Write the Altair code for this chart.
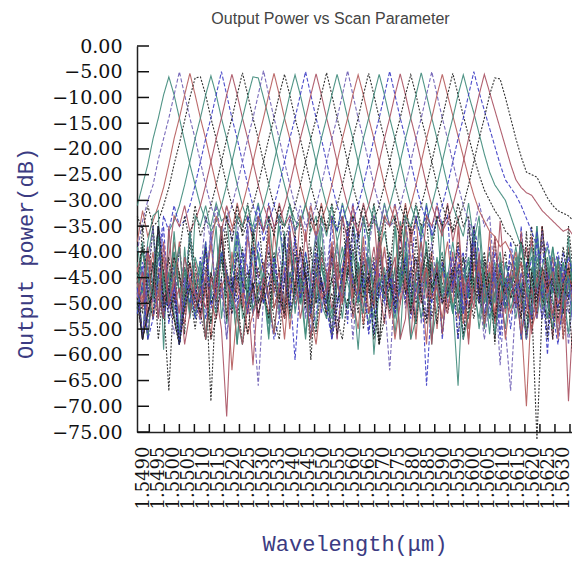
import altair as alt
import pandas as pd

# wavelength grid of the simulation (um)
WL_START = 1.5486
WL_STEP = 0.000175

CH01 = [-31,-27,-23,-18,-14,-9.5,-6,-9.5,-14,-18.5,-23,-27,
        -31,-34,-35,-30.5,-34,-33,-44,-36,-41,-50,-45,-40,
        -46,-56,-43,-35,-44,-49,-41,-47,-57,-45,-36,-43,
        -48,-56,-46,-41,-37,-44,-50,-42,-47,-53,-40,-36,
        -42,-48,-34,-39,-51,-44,-38,-46,-58,-43,-40,-47,
        -52,-45,-41,-49,-38,-44,-50,-46,-42,-48,-55,-44,
        -39,-46,-56,-43,-48,-35,-45,-53,-47,-42,-49,-44]
CH02 = [-40,-34,-30,-27,-22,-18,-14,-9.5,-5,-9.5,-14,-18,
        -22.5,-27,-31,-34,-36,-31,-38,-33,-48,-43,-52,-66,
        -49,-42,-46,-39,-51,-44,-47,-40,-53,-45,-41,-48,
        -44,-34,-50,-46,-42,-57,-45,-39,-47,-56,-43,-40,
        -46,-51,-37,-44,-49,-41,-54,-45,-38,-47,-43,-50,
        -41,-48,-57,-44,-35,-46,-42,-51,-45,-62,-47,-40,
        -45,-52,-43,-38,-48,-44,-56,-41,-47,-50,-39,-46]
CH03 = [-38,-32,-37,-34,-31,-27.5,-23,-18,-14,-9.5,-5.3,-9.5,
        -14,-18,-22.5,-27,-31,-34,-36,-30.5,-35,-33,-38,-45,
        -42,-49,-36,-44,-53,-41,-47,-39,-45,-50,-43,-48,
        -52,-40,-46,-43,-38,-49,-55,-44,-41,-47,-36,-45,
        -50,-43,-35,-48,-45,-57,-42,-46,-40,-55,-44,-38,
        -47,-42,-54,-45,-39,-49,-43,-46,-52,-41,-48,-44,
        -40,-51,-45,-37,-47,-43,-50,-55,-42,-46,-39,-48]
CH04 = [-33,-36,-31,-35,-34,-31,-27.5,-23,-19,-14.5,-10,-6.2,
        -6,-9.5,-14,-18,-22.5,-27,-31,-34,-36,-30.5,-38,-33,
        -44,-37,-48,-43,-53,-45,-40,-49,-42,-61,-46,-39,
        -45,-56,-42,-47,-34,-44,-52,-41,-48,-43,-58,-46,
        -40,-47,-44,-50,-37,-45,-49,-42,-53,-46,-41,-48,
        -43,-57,-46,-35,-45,-50,-42,-47,-54,-44,-40,-49,
        -45,-41,-53,-47,-43,-38,-50,-46,-42,-57,-48,-44]
CH05 = [-42,-48,-38,-33,-32,-59,-36,-34,-31,-27,-22.5,-18,
        -14,-9.5,-5.8,-9.5,-14,-18,-22.5,-27,-31,-34,-35,-30.5,
        -36,-33,-44,-52,-38,-46,-43,-50,-40,-47,-55,-42,
        -48,-39,-45,-53,-43,-47,-59,-44,-41,-49,-37,-46,
        -51,-43,-57,-40,-46,-54,-35,-39,-47,-44,-56,-45,
        -38,-46,-52,-43,-48,-41,-45,-56,-44,-40,-49,-47,
        -42,-50,-45,-39,-53,-46,-41,-48,-44,-51,-43,-47]
CH06 = [-50,-44,-39,-47,-42,-33,-36,-31,-35,-34,-31,-27,
        -22.5,-18,-14,-9.5,-5,-9.5,-14,-18,-22.5,-27,-31,-34,
        -36,-30.5,-35,-33,-43,-47,-61,-46,-40,-49,-44,-52,
        -45,-40,-57,-43,-54,-35,-39,-47,-42,-56,-44,-48,
        -41,-49,-45,-38,-47,-53,-43,-46,-50,-42,-57,-45,
        -48,-43,-40,-51,-46,-44,-49,-39,-47,-53,-42,-46,
        -51,-35,-47,-41,-49,-45,-60,-43,-48,-40,-46,-56]
CH07 = [-44,-39,-49,-42,-46,-53,-41,-33,-35,-31,-36,-34,
        -31,-27,-22.5,-18,-14,-9.5,-5.5,-9.5,-14,-18,-22.5,-27,
        -31,-34,-36,-30.5,-35,-33,-38,-47,-44,-52,-41,-48,
        -45,-42,-57,-46,-40,-48,-43,-51,-45,-39,-47,-54,
        -43,-48,-35,-46,-57,-44,-38,-49,-45,-42,-56,-47,
        -40,-53,-45,-58,-42,-46,-55,-43,-49,-34,-47,-44,
        -50,-45,-39,-48,-52,-43,-46,-41,-54,-47,-44,-49]
CH08 = [-46,-52,-41,-48,-44,-50,-67,-47,-40,-33,-38,-31,
        -37,-34,-31,-27,-22.5,-18,-14,-9.5,-5.2,-9.5,-14,-18,
        -22.5,-27,-31,-34,-35,-30.5,-36,-33,-47,-53,-44,-40,
        -48,-57,-51,-45,-35,-47,-42,-55,-46,-41,-58,-44,
        -52,-46,-40,-48,-43,-50,-45,-39,-47,-54,-42,-48,
        -44,-49,-41,-47,-53,-45,-40,-48,-43,-51,-46,-42,
        -47,-53,-44,-35,-49,-45,-57,-43,-48,-39,-46,-50]
CH09 = [-39,-45,-50,-42,-47,-53,-44,-40,-48,-43,-51,-33,
        -35,-31,-36,-34,-31,-27,-22.5,-18,-14,-9.8,-6,-6.2,
        -10,-14,-18.5,-23,-27,-31,-34,-35,-30.5,-36,-33,-43,
        -47,-52,-44,-39,-46,-50,-42,-48,-54,-45,-40,-47,
        -43,-56,-46,-35,-52,-44,-48,-38,-57,-51,-43,-47,
        -50,-66,-45,-42,-48,-53,-44,-40,-47,-43,-49,-46,
        -41,-48,-57,-45,-35,-50,-46,-39,-47,-52,-44,-55]
CH10 = [-48,-43,-54,-46,-41,-49,-44,-52,-39,-47,-42,-50,
        -45,-33,-38,-31,-37,-34,-31,-27,-22.5,-18,-14,-9.5,
        -4.8,-9.5,-14,-18,-22.5,-27,-31,-34,-36,-30.5,-38,-33,
        -44,-57,-39,-46,-53,-35,-47,-41,-56,-45,-38,-49,
        -63,-46,-42,-51,-44,-48,-40,-53,-46,-43,-49,-45,
        -41,-47,-52,-34,-39,-48,-57,-50,-43,-56,-46,-42,
        -49,-44,-47,-53,-40,-46,-51,-43,-48,-45,-58,-47]
CH11 = [-43,-49,-46,-40,-53,-44,-48,-38,-45,-51,-42,-47,
        -52,-44,-39,-33,-36,-31,-35,-34,-31,-27,-22.5,-18,
        -14,-9.5,-5.3,-9.5,-14,-18,-22.5,-27,-31,-34,-37,-30.5,
        -36,-33,-43,-47,-40,-49,-44,-54,-46,-42,-48,-39,
        -47,-57,-50,-35,-41,-53,-46,-58,-42,-47,-44,-51,
        -45,-40,-48,-55,-43,-46,-50,-42,-47,-44,-52,-46,
        -43,-49,-56,-51,-47,-35,-48,-53,-44,-57,-42,-50]
CH12 = [-51,-35,-48,-42,-57,-47,-41,-50,-44,-56,-36,-43,
        -49,-45,-69,-48,-42,-33,-38,-31,-37,-34,-31,-27,
        -22.5,-18,-14,-9.5,-5.5,-9.5,-14,-18,-22.5,-27,-31,-34,
        -35,-30.5,-36,-33,-45,-39,-48,-44,-52,-46,-41,-49,
        -44,-51,-47,-42,-48,-54,-45,-40,-49,-43,-46,-52,
        -47,-43,-57,-45,-35,-48,-53,-44,-58,-42,-51,-47,
        -44,-48,-42,-55,-46,-49,-43,-47,-51,-45,-40,-48]
CH13 = [-44,-57,-41,-35,-53,-45,-49,-42,-56,-39,-52,-48,
        -43,-47,-54,-46,-40,-49,-44,-33,-35,-31,-36,-34,
        -31,-27,-22.5,-18,-14,-9.5,-5.6,-9.5,-14,-18,-22.5,-27,
        -31,-34,-36,-30.5,-35,-33,-44,-48,-41,-60,-47,-43,
        -51,-35,-48,-40,-57,-53,-43,-47,-42,-50,-34,-49,
        -44,-52,-46,-41,-48,-43,-55,-47,-45,-50,-42,-47,
        -53,-46,-57,-49,-45,-36,-44,-48,-41,-47,-56,-45]
CH14 = [-47,-42,-57,-45,-35,-40,-54,-46,-58,-50,-44,-49,
        -41,-53,-46,-43,-49,-45,-52,-44,-47,-33,-37,-31,
        -38,-34,-31,-27,-22.5,-18,-14,-9.5,-5,-9.5,-14,-18,
        -22.5,-27,-31,-34,-37,-30.5,-38,-33,-46,-42,-49,-45,
        -43,-50,-46,-41,-53,-47,-44,-66,-49,-45,-42,-48,
        -46,-57,-43,-48,-35,-40,-52,-47,-44,-57,-46,-55,
        -45,-48,-42,-50,-46,-53,-44,-47,-51,-43,-49,-46]
CH15 = [-49,-44,-52,-47,-43,-50,-45,-41,-48,-54,-46,-42,
        -47,-51,-44,-48,-55,-72,-49,-43,-46,-52,-45,-33,
        -36,-31,-35,-34,-31,-27,-22.5,-18,-14,-9.5,-5.4,-9.5,
        -14,-18,-22.5,-27,-31,-34,-36,-30.5,-35,-33,-46,-49,
        -45,-41,-57,-53,-35,-47,-50,-43,-58,-42,-49,-52,
        -44,-48,-45,-51,-47,-42,-49,-46,-53,-44,-48,-45,
        -50,-36,-47,-56,-45,-49,-44,-57,-41,-54,-46,-47]
CH16 = [-45,-57,-47,-35,-49,-53,-46,-44,-58,-43,-48,-55,
        -47,-43,-50,-46,-41,-48,-52,-45,-49,-44,-47,-53,
        -46,-33,-37,-31,-38,-34,-31,-27,-22.5,-18,-14,-9.5,
        -5.2,-9.5,-14,-18,-22.5,-27,-31,-34,-37,-30.5,-38,-33,
        -46,-52,-43,-48,-45,-41,-49,-54,-47,-44,-50,-46,
        -43,-49,-56,-52,-35,-48,-41,-47,-57,-45,-50,-48,
        -46,-42,-51,-47,-44,-49,-53,-45,-48,-50,-43,-47]
CH17 = [-52,-46,-43,-49,-45,-51,-47,-40,-48,-44,-53,-46,
        -42,-57,-45,-35,-53,-44,-47,-58,-43,-49,-36,-41,
        -48,-54,-45,-33,-35,-31,-36,-34,-31,-27,-22.5,-18,
        -14,-9.5,-5.5,-9.5,-14,-18,-22.5,-27,-31,-34,-36,-30.5,
        -35,-33,-47,-43,-50,-46,-53,-44,-48,-41,-49,-45,
        -52,-46,-43,-49,-45,-55,-47,-44,-50,-42,-48,-46,
        -44,-57,-47,-53,-35,-48,-42,-49,-56,-51,-44,-47]
CH18 = [-46,-57,-44,-35,-53,-45,-49,-56,-51,-47,-36,-48,
        -54,-46,-36,-49,-45,-57,-47,-41,-50,-35,-48,-53,
        -45,-49,-43,-51,-46,-33,-36,-31,-35,-34,-31,-27,
        -22.5,-18,-14,-9.5,-4.8,-9.5,-14,-18,-22.5,-27,-31,-34,
        -35,-30.5,-36,-33,-44,-49,-46,-53,-43,-47,-50,-45,
        -48,-43,-51,-46,-49,-44,-52,-47,-45,-50,-55,-67,
        -49,-44,-51,-47,-45,-53,-48,-43,-50,-46,-52,-47]
CH19 = [-48,-57,-50,-46,-35,-44,-49,-53,-58,-47,-51,-44,
        -50,-47,-38,-49,-46,-53,-40,-48,-51,-37,-43,-50,
        -47,-52,-45,-49,-43,-55,-46,-33,-38,-31,-37,-34,
        -31,-27,-22.5,-18,-14,-9.5,-5.6,-9.5,-14,-18,-22.5,-27,
        -31,-34,-37,-30.5,-38,-33,-46,-43,-49,-47,-53,-45,
        -50,-35,-48,-57,-46,-43,-49,-36,-54,-45,-57,-48,
        -46,-53,-70,-49,-45,-51,-47,-44,-50,-48,-43,-52]
CH20 = [-44,-57,-52,-46,-35,-50,-47,-53,-58,-48,-42,-51,
        -46,-40,-54,-45,-38,-43,-51,-47,-39,-50,-46,-52,
        -48,-44,-51,-47,-53,-45,-49,-43,-50,-33,-35,-31,
        -36,-34,-31,-27,-22.5,-18,-14,-9.5,-5.3,-9.5,-14,-18,
        -22.5,-27,-31,-34,-36,-30.5,-35,-33,-47,-44,-50,-48,
        -45,-38,-47,-53,-40,-49,-44,-50,-37,-52,-45,-49,
        -47,-53,-36,-50,-76.5,-51,-46,-57,-44,-52,-35,-45]
CH21 = [-50,-38,-48,-53,-40,-44,-51,-36,-49,-43,-52,-41,
        -45,-57,-47,-44,-35,-54,-46,-58,-43,-48,-52,-46,
        -49,-53,-45,-48,-51,-44,-47,-50,-46,-52,-43,-33,
        -37,-31,-38,-34,-31,-27,-22.5,-18,-14,-9.5,-5.5,-9.5,
        -14,-18,-22.5,-27,-31,-34,-37,-30.5,-38,-33,-48,-44,
        -51,-47,-57,-52,-49,-35,-50,-46,-56,-48,-45,-51,
        -47,-39,-46,-49,-37,-51,-48,-55,-41,-50,-47,-40]
CH22 = [-47,-57,-44,-49,-35,-53,-48,-43,-58,-45,-50,-47,
        -53,-39,-49,-44,-37,-47,-45,-52,-40,-43,-50,-38,
        -44,-50,-57,-53,-45,-35,-51,-46,-43,-56,-52,-45,
        -50,-33,-36,-31,-35,-34,-31,-27,-22.5,-18,-14,-9.5,
        -4.9,-9.5,-14,-18,-22.5,-27,-31,-34,-36,-30.5,-35,-33,
        -47,-39,-52,-48,-36,-50,-46,-53,-40,-44,-51,-38,
        -45,-57,-48,-53,-36,-49,-44,-52,-58,-50,-45,-49]
CH23 = [-49,-44,-57,-46,-48,-53,-35,-50,-47,-58,-52,-46,
        -48,-45,-50,-53,-47,-44,-49,-46,-51,-48,-62,-47,
        -45,-37,-48,-44,-53,-39,-49,-47,-36,-45,-50,-41,
        -44,-51,-47,-33,-38,-31,-37,-34,-31,-27,-22.5,-18,
        -14,-9.5,-5.4,-9.5,-14,-18,-22.5,-27,-31,-34,-37,-30.5,
        -38,-33,-48,-45,-51,-40,-54,-49,-37,-50,-47,-52,
        -48,-56,-51,-47,-53,-35,-46,-52,-48,-44,-69,-50]
CH24 = [-46,-39,-48,-53,-37,-49,-47,-41,-44,-50,-38,-46,
        -52,-57,-44,-50,-35,-53,-45,-49,-58,-51,-47,-43,
        -50,-46,-53,-57,-45,-51,-36,-49,-44,-52,-56,-46,
        -53,-40,-50,-45,-38,-33,-35,-31,-36,-34,-31,-27,
        -22.5,-18,-14,-9.5,-5.6,-9.5,-14,-18,-22.5,-27,-31,-34,
        -36,-30.5,-35,-33,-47,-50,-44,-49,-53,-46,-48,-45,
        -51,-47,-57,-44,-52,-35,-46,-50,-53,-47,-49,-63]
CH25 = [-51,-47,-57,-45,-35,-48,-44,-52,-58,-49,-36,-47,
        -45,-38,-48,-52,-40,-44,-51,-37,-53,-49,-39,-50,
        -47,-57,-44,-49,-36,-53,-48,-45,-56,-47,-50,-35,
        -49,-53,-46,-48,-51,-45,-50,-33,-38,-31,-37,-34,
        -31,-27,-22.5,-18,-14,-9.5,-5.2,-9.5,-14,-18,-22.5,-27,
        -31,-34,-37,-30.5,-38,-33,-46,-53,-48,-45,-51,-47,
        -44,-38,-46,-52,-41,-45,-53,-39,-46,-51,-37,-50]
CH26 = [-48,-57,-46,-50,-35,-51,-47,-49,-58,-45,-48,-52,
        -46,-49,-36,-51,-47,-57,-45,-50,-48,-35,-52,-49,
        -45,-39,-47,-53,-37,-46,-50,-40,-52,-48,-36,-51,
        -47,-41,-45,-49,-38,-46,-48,-52,-39,-33,-36,-31,
        -35,-34,-31,-27,-22.5,-18,-14,-9.5,-5,-9.5,-14,-18,
        -22.5,-27,-31,-34,-36,-30.5,-35,-33,-46,-52,-48,-45,
        -51,-47,-57,-50,-53,-36,-49,-45,-56,-48,-50,-46]
CH27 = [-45,-50,-39,-53,-48,-41,-51,-46,-38,-52,-45,-48,
        -53,-47,-57,-44,-36,-46,-63,-51,-48,-56,-52,-47,
        -49,-35,-51,-47,-57,-45,-50,-48,-46,-52,-58,-49,
        -47,-38,-45,-50,-40,-46,-48,-37,-52,-47,-41,-33,
        -35,-31,-36,-34,-31,-27,-22.5,-18,-14,-9.5,-5.5,-9.5,
        -13.5,-17.5,-21.5,-25.5,-29,-32,-34,-36,-37,-39,-38,-40,
        -46,-42,-49,-55,-51,-44,-48,-43,-57,-46,-44,-48]
CH28 = [-50,-57,-52,-48,-35,-51,-47,-53,-58,-49,-46,-52,
        -48,-39,-50,-47,-37,-45,-49,-40,-46,-48,-36,-50,
        -47,-53,-40,-49,-52,-38,-48,-44,-51,-39,-50,-45,
        -52,-48,-56,-50,-44,-35,-47,-49,-45,-57,-46,-48,
        -44,-33,-38,-31,-37,-34,-31,-27,-22.5,-18,-14,-9.5,
        -5.3,-9.5,-13.5,-17.5,-21.5,-25,-28,-30,-32,-33.5,-36,-37,
        -39,-38,-41,-44,-50,-43,-47,-45,-52,-46,-43,-49]
CH29 = [-47,-40,-45,-49,-37,-46,-50,-44,-39,-51,-47,-53,
        -45,-57,-48,-44,-35,-46,-49,-53,-58,-45,-51,-48,
        -44,-49,-56,-46,-50,-36,-52,-45,-48,-57,-46,-50,
        -53,-45,-38,-47,-51,-40,-48,-52,-37,-50,-45,-49,
        -47,-53,-46,-33,-35,-31,-36,-34,-31,-27,-22.5,-18,
        -14,-9.5,-5.6,-9.5,-13,-17,-21,-24.5,-27,-28.5,-30,-33,
        -36,-39,-44,-41,-47,-43,-39,-45,-49,-42,-46,-44]
CH30 = [-52,-46,-57,-53,-45,-35,-51,-47,-58,-50,-46,-53,
        -49,-38,-51,-47,-40,-44,-48,-36,-46,-52,-39,-45,
        -50,-46,-41,-48,-44,-51,-37,-49,-45,-52,-40,-46,
        -51,-57,-50,-44,-36,-46,-49,-45,-56,-48,-46,-50,
        -45,-52,-47,-49,-44,-33,-38,-31,-37,-34,-31,-27,
        -22.5,-18,-14,-9.5,-5,-9,-12.5,-16,-19.5,-23,-26,-27.5,
        -29,-31,-33.5,-36,-39,-42,-38,-44,-40,-46,-41,-45]
CH31 = [-46,-51,-40,-44,-53,-38,-50,-45,-52,-41,-46,-51,
        -47,-57,-45,-49,-35,-46,-48,-52,-58,-50,-47,-53,
        -45,-49,-56,-46,-50,-36,-44,-53,-47,-57,-45,-49,
        -48,-39,-46,-50,-37,-53,-47,-40,-44,-51,-38,-46,
        -53,-47,-50,-45,-52,-48,-44,-33,-35,-31,-36,-34,
        -31,-27,-22.5,-18,-14,-9.5,-5.5,-9,-12.5,-16,-19.5,-23,
        -26,-27.5,-28.5,-29,-30.5,-32,-33,-34,-35,-36,-35.5,-37]
CH32 = [-49,-57,-52,-47,-35,-44,-53,-48,-58,-51,-47,-49,
        -52,-46,-57,-53,-45,-36,-47,-44,-51,-56,-46,-52,
        -48,-40,-46,-50,-37,-52,-47,-39,-45,-51,-38,-46,
        -50,-45,-53,-57,-49,-52,-36,-48,-44,-51,-58,-53,
        -46,-50,-39,-44,-52,-37,-49,-53,-40,-33,-35,-31,
        -36,-34,-31,-27,-22.5,-18,-14,-9.5,-6.2,-6.4,-10,-14,
        -18,-21.5,-24.5,-25,-25.5,-27.5,-29.5,-31,-32,-32.5,-33,-34]

SERIES = [CH01, CH02, CH03, CH04, CH05, CH06, CH07, CH08,
          CH09, CH10, CH11, CH12, CH13, CH14, CH15, CH16,
          CH17, CH18, CH19, CH20, CH21, CH22, CH23, CH24,
          CH25, CH26, CH27, CH28, CH29, CH30, CH31, CH32]

X_TICKS = [1.5490, 1.5495, 1.5500, 1.5505, 1.5510, 1.5515, 1.5520, 1.5525,
           1.5530, 1.5535, 1.5540, 1.5545, 1.5550, 1.5555, 1.5560, 1.5565,
           1.5570, 1.5575, 1.5580, 1.5585, 1.5590, 1.5595, 1.5600, 1.5605,
           1.5610, 1.5615, 1.5620, 1.5625, 1.5630]
Y_TICKS = [0, -5, -10, -15, -20, -25, -30, -35, -40, -45, -50, -55, -60, -65, -70, -75]

# line style cycle (colour, dash) repeated every 8 channels
STYLE_COLORS = ["#3e8a7a", "#6c5cb4", "#b55b5b", "#1c1c1c",
                "#3e8a7a", "#3a3ac4", "#a85060", "#1c1c1c"]
STYLE_DASHES = [[1, 0], [4, 2], [1, 0], [2, 1.5],
                [1, 0], [4, 2], [1, 0], [2, 1.5]]

names, colors, dashes, rows = [], [], [], []
for k, vals in enumerate(SERIES):
    name = f"ch{k + 1:02d}"
    names.append(name)
    colors.append(STYLE_COLORS[k % 8])
    dashes.append(STYLE_DASHES[k % 8])
    for i, v in enumerate(vals):
        rows.append({"series": name, "wl": round(WL_START + i * WL_STEP, 6), "dB": v})
df = pd.DataFrame(rows)

W, H = 435, 386
xscale = alt.Scale(domain=[1.54859, 1.563067], nice=False, zero=False)
yscale = alt.Scale(domain=[-75, 0], nice=False, zero=False)

axis_common = dict(grid=False, ticks=False, tickSize=0, domainColor="#222222", domainWidth=1.5,
                   labelFont="DejaVu Serif", labelColor="#111111", labelOverlap=False,
                   titleFont="Liberation Mono", titleFontSize=22, titleFontWeight="normal",
                   titleColor="#3b3b82")
x_axis = alt.Axis(values=X_TICKS, format=".4f", labelAngle=270, labelAlign="right",
                  labelBaseline="middle", labelPadding=14, labelOffset=-6, labelFontSize=18,
                  title="Wavelength(μm)", titleY=118, titleBaseline="alphabetic",
                  **axis_common)
y_axis = alt.Axis(values=Y_TICKS, format=".2f", labelPadding=15, labelFontSize=19,
                  title="Output power(dB)", titleX=-112, titleY=207,
                  titleAlign="center", titleBaseline="middle", titleAngle=270,
                  **axis_common)

lines = alt.Chart(df).mark_line(strokeWidth=1.1, opacity=0.9).encode(
    x=alt.X("wl:Q", scale=xscale, axis=x_axis),
    y=alt.Y("dB:Q", scale=yscale, axis=y_axis),
    color=alt.Color("series:N", scale=alt.Scale(domain=names, range=colors), legend=None),
    strokeDash=alt.StrokeDash("series:N", scale=alt.Scale(domain=names, range=dashes), legend=None),
)

xt = alt.Chart(pd.DataFrame({"wl": X_TICKS})).mark_rule(color="#111111", strokeWidth=1.5).encode(
    x=alt.X("wl:Q", scale=xscale, axis=x_axis),
    y=alt.value(H), y2=alt.value(H - 8))
yt = alt.Chart(pd.DataFrame({"dB": Y_TICKS})).mark_rule(color="#111111", strokeWidth=1.5).encode(
    y=alt.Y("dB:Q", scale=yscale, axis=y_axis),
    x=alt.value(0), x2=alt.value(12))

chart = alt.layer(lines, xt, yt).properties(
    width=W, height=H,
    background="white",
    title=alt.TitleParams("Output Power vs Scan Parameter", font="Liberation Sans", fontSize=16,
                          fontWeight="normal", color="#444444", anchor="middle", dx=-24,
                          dy=14, baseline="bottom", offset=8),
    autosize=alt.AutoSizeParams(type="none"),
    padding={"left": 129, "top": 38, "right": 0, "bottom": 124},
).configure_view(strokeWidth=0)

chart.save("out.html", embed_options={"renderer": "svg", "actions": False})
